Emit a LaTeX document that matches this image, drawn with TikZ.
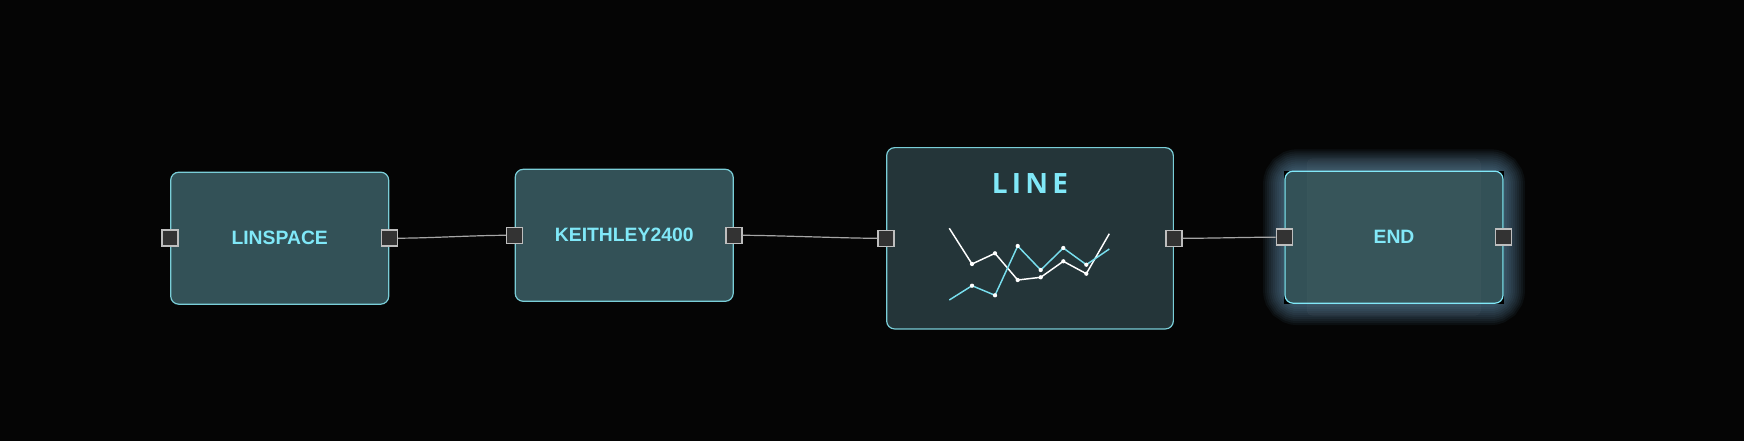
\documentclass[tikz,border=0pt]{standalone}
\usepackage{fontspec}
\setmainfont{Liberation Sans}
\newfontfamily\titlefont[LetterSpace=15]{Open Sans}
\usetikzlibrary{positioning,calc}
\definecolor{bgc}{RGB}{5,5,5}
\definecolor{blockc}{RGB}{51,81,87}
\definecolor{plotc}{RGB}{36,53,57}
\definecolor{bordc}{RGB}{122,206,216}
\definecolor{labc}{RGB}{128,232,248}
\definecolor{portc}{RGB}{51,51,51}
\definecolor{portbord}{RGB}{190,190,190}
\definecolor{wirec}{RGB}{165,165,165}
\definecolor{glowc}{RGB}{120,175,210}
\definecolor{bluline}{RGB}{120,222,238}
\pgfdeclarelayer{bg}
\pgfdeclarelayer{glow}
\pgfsetlayers{bg,glow,main}

\begin{document}
\begin{tikzpicture}[x=0.75pt,y=0.75pt,yscale=-1,xscale=1,
	blockbox/.style={draw=bordc, fill=blockc, rounded corners=6pt, line width=0.9pt, minimum width=163.5pt, minimum height=99pt, inner sep=0pt, text=labc, font=\bfseries\fontsize{14.5}{17}\selectfont},
	port/.style={draw=portbord, fill=portc, line width=1.1pt, minimum size=12pt, inner sep=0pt},
	wire/.style={draw=wirec, line width=0.9pt},
	trace/.style={line width=1.1pt, line join=round}]
	\begin{pgfonlayer}{bg}
		\fill[bgc] (0,0) rectangle (1744,441);
	\end{pgfonlayer}
	\useasboundingbox (0,0) rectangle (1744,441);

	% blocks
	\node[blockbox] (linspace) at (279.7,238.2) {LINSPACE};
	\node[blockbox] (keithley) at (624.2,235.3) {KEITHLEY2400};
	\node[blockbox, fill=plotc, minimum width=215pt, minimum height=136pt] (line) at (1030,238.3) {};
	\node[blockbox, draw=labc] (end) at (1394,237.2) {END};

	\node[text=labc, font=\titlefont\bfseries\fontsize{21}{24}\selectfont] (lineTitle) at (1030,183.3) {LINE};

	% glow round the selected block
	\begin{pgfonlayer}{glow}
		\foreach \w in {2,5,...,32}
			\draw[glowc, line width=\w pt, opacity=0.06, rounded corners=10pt] (end.north west) rectangle (end.south east);
		\fill[black] (end.north west) rectangle (end.south east);
	\end{pgfonlayer}
	\draw[white, fill=white, opacity=0.025, rounded corners=4pt] ($(end.north west)+(22.6,-12)$) rectangle ($(end.south east)+(-23,11.7)$);

	% ports
	\node[port] (linspaceIn) at (linspace.west) {};
	\node[port] (linspaceOut) at (linspace.east) {};
	\node[port] (keithleyIn) at (keithley.west) {};
	\node[port] (keithleyOut) at (keithley.east) {};
	\node[port] (lineIn) at (line.west) {};
	\node[port] (lineOut) at (line.east) {};
	\node[port] (endIn) at (end.west) {};
	\node[port] (endOut) at (end.east) {};

	% wires
	\draw[wire] (linspaceOut.east) .. controls +(30,0) and +(-30,0) .. (keithleyIn.west);
	\draw[wire] (keithleyOut.east) .. controls +(30,0) and +(-30,0) .. (lineIn.west);
	\draw[wire] (lineOut.east) .. controls +(30,0) and +(-30,0) .. (endIn.west);

	% little chart in the LINE block
	\draw[trace, white] (949.3,228.3) -- (972,264) -- (995,253.3) -- (1017.7,280) -- (1040.7,277.3) -- (1063.3,261.3) -- (1086.3,273.7) -- (1109.3,233.7);
	\draw[trace, bluline] (949.3,300) -- (972,285.7) -- (995,295.3) -- (1017.7,246) -- (1040.7,270) -- (1063.3,248) -- (1086.3,264.7) -- (1109.3,249);
	\foreach \p in {(972,264),(995,253.3),(1017.7,280),(1040.7,277.3),(1063.3,261.3),(1086.3,273.7),
		(972,285.7),(995,295.3),(1017.7,246),(1040.7,270),(1063.3,248),(1086.3,264.7)}
		\fill[white] \p circle (1.6pt);
\end{tikzpicture}
\end{document}
